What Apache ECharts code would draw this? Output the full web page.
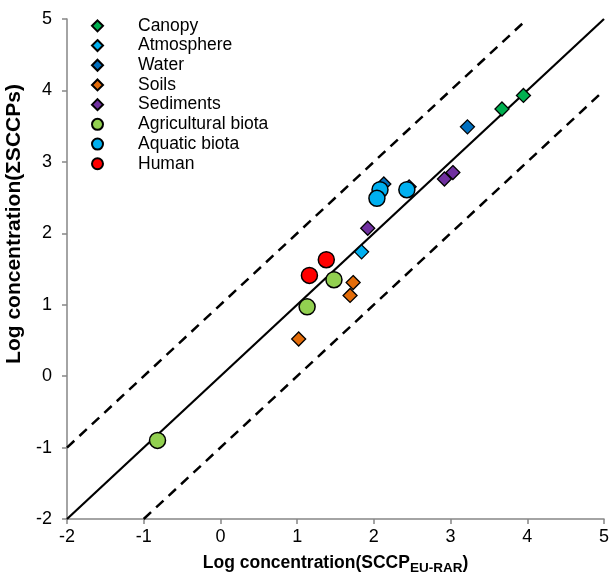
<!DOCTYPE html>
<html>
<head>
<meta charset="utf-8">
<script src="https://cdn.jsdelivr.net/npm/echarts@6/dist/echarts.min.js"></script>
<style>
  html, body { margin: 0; padding: 0; background: #fff; }
  #chart { width: 610px; height: 574px; }
</style>
</head>
<body>
<div id="chart"></div>
<script>
  // 各类介质的数据 [SCCP_EU-RAR, ΣSCCPs]（对数浓度）
  var canopy = [[3.67, 3.74], [3.95, 3.93]];
  var atmosphere = [[1.84, 1.74]];
  var water = [[3.22, 3.49], [2.13, 2.69]];
  var soils = [[1.73, 1.31], [1.69, 1.13], [1.02, 0.52]];
  var sediments = [[3.03, 2.85], [2.92, 2.76], [1.92, 2.07], [2.46, 2.65]];
  var agricultural = [[1.48, 1.35], [1.13, 0.97], [-0.82, -0.90]];
  var aquatic = [[2.08, 2.61], [2.04, 2.49], [2.43, 2.61]];
  var human = [[1.38, 1.63], [1.16, 1.41]];

  // 1:1 线和 ±1 数量级线
  var oneToOne = [[-2, -2], [5, 5]];
  var upperLine = [[-2, -1], [4, 5]];
  var lowerLine = [[-1, -2], [5, 4]];

  var font = 'Liberation Sans, Arial, sans-serif';

  function diamond(name, data, color) {
    return {
      name: name, type: 'scatter', data: data, symbol: 'diamond', symbolSize: 14, z: 3,
      itemStyle: { color: color, opacity: 1, borderColor: '#000', borderWidth: 1.3 }
    };
  }
  function circle(name, data, color) {
    return {
      name: name, type: 'scatter', data: data, symbol: 'circle', symbolSize: 16, z: 4,
      itemStyle: { color: color, opacity: 1, borderColor: '#000', borderWidth: 1.5 }
    };
  }
  function refLine(data, type) {
    return {
      type: 'line', data: data, symbol: 'none', z: 2, silent: true,
      lineStyle: { color: '#000', width: type === 'solid' ? 2.2 : 2.5, type: type === 'solid' ? 'solid' : [10, 7] }
    };
  }

  var myChart = echarts.init(document.getElementById('chart'));
  var option = {
    animation: false,
    textStyle: { fontFamily: font },
    grid: { left: 67, right: 6, top: 19, bottom: 55, containLabel: false, outerBoundsMode: 'none' },
    legend: {
      orient: 'vertical', left: 86, top: 11, itemGap: 0,
      itemWidth: 11, itemHeight: 11,
      textStyle: { fontSize: 17.5, color: '#000', lineHeight: 19.7, fontFamily: font, padding: [0, 0, 0, 30] },
      data: ['Canopy', 'Atmosphere', 'Water', 'Soils', 'Sediments', 'Agricultural biota', 'Aquatic biota', 'Human']
    },
    xAxis: {
      type: 'value', min: -2, max: 5, interval: 1,
      name: '{a|Log concentration(SCCP}{s|EU-RAR}{a|)}',
      nameLocation: 'middle', nameGap: 32,
      nameTextStyle: {
        rich: {
          a: { fontSize: 17.5, fontWeight: 'bold', color: '#000', fontFamily: font, lineHeight: 22 },
          s: { fontSize: 13.5, fontWeight: 'bold', color: '#000', fontFamily: font, lineHeight: 22, padding: [10, 0, 0, 0] }
        }
      },
      axisLine: { show: true, onZero: false, lineStyle: { color: '#868686', width: 1.5 } },
      axisTick: { show: true, length: 5, lineStyle: { color: '#868686', width: 1.5 } },
      axisLabel: { fontSize: 18, color: '#000', margin: 9 },
      splitLine: { show: false }
    },
    yAxis: {
      type: 'value', min: -2, max: 5, interval: 1,
      name: 'Log concentration(ΣSCCPs)',
      nameLocation: 'middle', nameGap: 33, nameRotate: 90,
      nameTextStyle: { fontSize: 21, fontWeight: 'bold', color: '#000', padding: [0, 0, 0, 90] },
      axisLine: { show: true, onZero: false, lineStyle: { color: '#868686', width: 1.5 } },
      axisTick: { show: true, length: 5, lineStyle: { color: '#868686', width: 1.5 } },
      axisLabel: { fontSize: 18, color: '#000', margin: 15 },
      splitLine: { show: false }
    },
    series: [
      refLine(oneToOne, 'solid'),
      refLine(upperLine, 'dashed'),
      refLine(lowerLine, 'dashed'),
      diamond('Canopy', canopy, '#00B050'),
      diamond('Atmosphere', atmosphere, '#00B0F0'),
      diamond('Water', water, '#0070C0'),
      diamond('Soils', soils, '#E36C09'),
      diamond('Sediments', sediments, '#7030A0'),
      circle('Agricultural biota', agricultural, '#92D050'),
      circle('Aquatic biota', aquatic, '#00B0F0'),
      circle('Human', human, '#FF0000')
    ]
  };
  myChart.setOption(option);
</script>
</body>
</html>
